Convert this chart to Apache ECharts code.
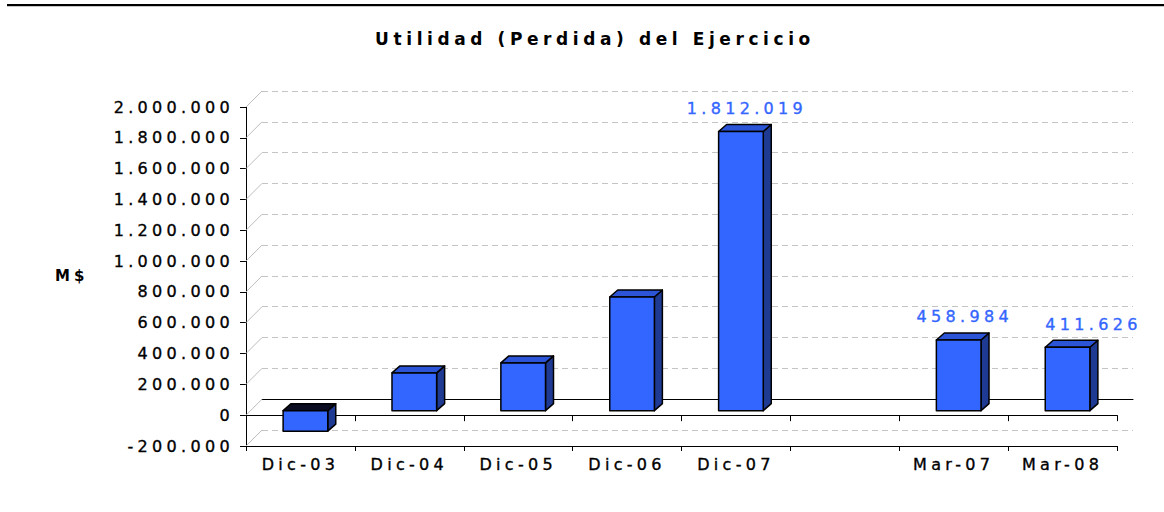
<!DOCTYPE html>
<html>
<head>
<meta charset="utf-8">
<script src="https://cdn.jsdelivr.net/npm/echarts@6/dist/echarts.min.js"></script>
<style>
html,body{margin:0;padding:0;background:#fff;}
#chart{width:1164px;height:512px;}
#chart text{letter-spacing:0.27em;}
</style>
</head>
<body>
<div id="chart"></div>
<script>
// ---- data ----
const categories = ['Dic-03', 'Dic-04', 'Dic-05', 'Dic-06', 'Dic-07', '', 'Mar-07', 'Mar-08'];
const utilidad = [-133000, 245000, 310000, 738000, 1812019, null, 458984, 411626];
const labeledCategories = ['Dic-07', 'Mar-07', 'Mar-08'];
const yTicks = [-200000, 0, 200000, 400000, 600000, 800000, 1000000, 1200000, 1400000, 1600000, 1800000, 2000000];
const yMin = -200000, yMax = 2000000, yStep = 200000;
const titleText = 'Utilidad (Perdida) del Ejercicio';
const unitText = 'M$';

// ---- style constants ----
const FONT = 'DejaVu Sans';
const WALL = 16;             // depth of back wall
const BAR_SHIFT = [5, -4.5]; // bar front face offset from front plane
const BAR_DEPTH = [8, -7];   // bar 3D depth
const BAR_FRAC = 0.41;
const labelNudge = { 'Mar-08': 20 };

function fmt(v) {
  const s = Math.abs(Math.round(v)).toString().replace(/\B(?=(\d{3})+(?!\d))/g, '.');
  return (v < 0 ? '-' : '') + s;
}

const chart = echarts.init(document.getElementById('chart'), null, { renderer: 'svg' });

const axisText = { color: '#000', fontFamily: FONT, fontSize: 16, textBorderColor: '#000', textBorderWidth: 0.35 };

const option = {
  backgroundColor: '#fff',
  animation: false,
  title: {
    text: titleText, left: 590, top: 25, textAlign: 'center',
    textStyle: { fontFamily: FONT, fontWeight: 'bold', fontSize: 17, color: '#000' }
  },
  graphic: [
    { type: 'rect', shape: { x: 7, y: 4, width: 1157, height: 2 }, style: { fill: '#000' } },
    { type: 'rect', shape: { x: 7, y: 6, width: 1157, height: 1 }, style: { fill: '#c8c8c8' } },
    { type: 'text', left: 55, top: 268, style: { text: unitText, font: 'bold 15px "DejaVu Sans"', fill: '#000' } }
  ],
  grid: [
    { left: 246, top: 107, right: 47, bottom: 66 },
    { left: 246 + WALL, top: 107 - WALL, right: 47 - WALL, bottom: 66 + WALL }
  ],
  xAxis: [
    {
      gridIndex: 0, type: 'category', data: categories, position: 'bottom',
      axisLine: { onZero: false, lineStyle: { color: '#000', width: 1 } },
      axisTick: { show: true, interval: 0, length: 5, lineStyle: { color: '#000' } },
      axisLabel: Object.assign({ interval: 0, margin: 10 }, axisText),
      splitLine: { show: false }
    },
    {
      gridIndex: 0, type: 'category', data: categories, position: 'bottom',
      axisLine: { onZero: true, lineStyle: { color: '#000', width: 1 } },
      axisTick: { show: true, interval: 0, length: 6, lineStyle: { color: '#000' } },
      axisLabel: { show: false },
      splitLine: { show: false }
    },
    {
      gridIndex: 1, type: 'category', data: categories,
      axisLine: { onZero: true, lineStyle: { color: '#000', width: 1 } },
      axisTick: { show: false }, axisLabel: { show: false }, splitLine: { show: false }
    }
  ],
  yAxis: [
    {
      gridIndex: 0, type: 'value', min: yMin, max: yMax, interval: yStep,
      axisLine: { show: true, onZero: false, lineStyle: { color: '#000', width: 1 } },
      axisTick: { show: true, length: 6, lineStyle: { color: '#000' } },
      axisLabel: Object.assign({ formatter: fmt, margin: 12 }, axisText),
      splitLine: { show: false }
    },
    {
      gridIndex: 1, type: 'value', min: yMin, max: yMax, interval: yStep,
      axisLine: { show: false }, axisTick: { show: false }, axisLabel: { show: false },
      splitLine: { show: true, lineStyle: { color: '#c4c4c4', type: [6, 4], width: 1 } }
    }
  ],
  series: [
    {
      type: 'custom', xAxisIndex: 0, yAxisIndex: 0, silent: true, z: 1,
      data: yTicks.map(v => [0, v]),
      renderItem: function (params, api) {
        const y = api.coord([0, api.value(1)])[1];
        const x = params.coordSys.x;
        return { type: 'line', shape: { x1: x, y1: y, x2: x + WALL, y2: y - WALL },
                 style: { stroke: '#bdbdbd', lineWidth: 1 } };
      }
    },
    {
      type: 'custom', xAxisIndex: 0, yAxisIndex: 0, silent: true, z: 5,
      data: utilidad.map((v, i) => [i, v == null ? '-' : v]),
      renderItem: function (params, api) {
        const v = api.value(1);
        if (v == null || isNaN(v)) return null;
        const i = api.value(0);
        const c0 = api.coord([i, 0]);
        const c1 = api.coord([i, v]);
        const bw = api.size([1, 0])[0] * BAR_FRAC;
        const xl = c0[0] - bw / 2 + BAR_SHIFT[0];
        const xr = xl + bw;
        const y0 = c0[1] + BAR_SHIFT[1];
        const y1 = c1[1] + BAR_SHIFT[1];
        const top = Math.min(y0, y1), bot = Math.max(y0, y1);
        const dx = BAR_DEPTH[0], dy = BAR_DEPTH[1];
        const line = { stroke: '#000', lineWidth: 1.5, lineJoin: 'round' };
        const children = [
          { type: 'polygon', shape: { points: [[xr, top], [xr + dx, top + dy], [xr + dx, bot + dy], [xr, bot]] },
            style: Object.assign({ fill: '#1f3a93' }, line) },
          { type: 'polygon', shape: { points: [[xl, top], [xl + dx, top + dy], [xr + dx, top + dy], [xr, top]] },
            style: Object.assign({ fill: v < 0 ? '#0b0b22' : '#2b55d6' }, line) },
          { type: 'rect', shape: { x: xl, y: top, width: bw, height: bot - top },
            style: Object.assign({ fill: '#3366ff' }, line) }
        ];
        const cat = categories[i];
        if (labeledCategories.indexOf(cat) >= 0) {
          children.push({
            type: 'text',
            style: {
              x: (xl + xr + dx) / 2 + 2 + (labelNudge[cat] || 0), y: top - 23,
              text: fmt(v), textAlign: 'center', textVerticalAlign: 'middle',
              fill: '#3366ff', font: '16px "DejaVu Sans"',
              stroke: '#3366ff', lineWidth: 0.35
            }
          });
        }
        return { type: 'group', children: children };
      }
    }
  ]
};
chart.setOption(option);
</script>
</body>
</html>
